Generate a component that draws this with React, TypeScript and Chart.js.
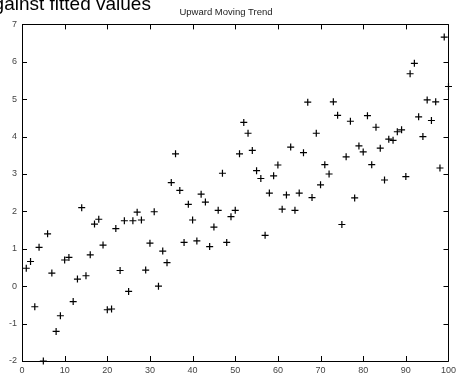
import React, { useEffect, useRef } from "react";
import { Chart, registerables } from "chart.js";

Chart.register(...registerables);

const xValues: number[] = Array.from({ length: 100 }, (_, i) => i + 1);
const yValues: number[] = [
  0.48, 0.66, -0.55, 1.04, -2.0, 1.4, 0.35, -1.21, -0.79, 0.7,
  0.77, -0.41, 0.19, 2.1, 0.28, 0.84, 1.66, 1.79, 1.1, -0.63,
  -0.61, 1.54, 0.42, 1.75, -0.14, 1.75, 1.98, 1.77, 0.43, 1.15,
  1.99, 0.0, 0.94, 0.63, 2.77, 3.54, 2.56, 1.17, 2.19, 1.77,
  1.21, 2.46, 2.25, 1.06, 1.58, 2.03, 3.02, 1.17, 1.86, 2.03,
  3.54, 4.38, 4.09, 3.63, 3.09, 2.88, 1.36, 2.49, 2.95, 3.24,
  2.06, 2.44, 3.72, 2.03, 2.49, 3.57, 4.92, 2.37, 4.09, 2.71,
  3.25, 3.0, 4.93, 4.57, 1.65, 3.46, 4.41, 2.36, 3.75, 3.59,
  4.56, 3.25, 4.25, 3.69, 2.84, 3.93, 3.9, 4.13, 4.18, 2.93,
  5.68, 5.96, 4.53, 4.0, 4.98, 4.43, 4.93, 3.16, 6.66, 5.34,
];
const xTicks: number[] = [0, 10, 20, 30, 40, 50, 60, 70, 80, 90, 100];
const yTicks: number[] = [-2, -1, 0, 1, 2, 3, 4, 5, 6, 7];
const titleText = "Upward Moving Trend";
const headerText = "against fitted values";

const FONT = "'Liberation Sans', Arial, Helvetica, sans-serif";

const framePlugin = {
  id: "matlabFrame",
  beforeDatasetsDraw(chart: any) {
    const { ctx, chartArea } = chart;
    const { left, right, top, bottom } = chartArea;
    const xs = chart.scales.x;
    const ys = chart.scales.y;
    const tl = 5;
    ctx.save();
    ctx.strokeStyle = "#000";
    ctx.lineWidth = 1;
    ctx.beginPath();
    ctx.rect(Math.round(left) + 0.5, Math.round(top) + 0.5, Math.round(right - left), Math.round(bottom - top));
    ctx.stroke();
    ctx.beginPath();
    xTicks.forEach((v) => {
      const px = Math.round(xs.getPixelForValue(v)) + 0.5;
      ctx.moveTo(px, bottom);
      ctx.lineTo(px, bottom - tl);
      ctx.moveTo(px, top);
      ctx.lineTo(px, top + tl);
    });
    yTicks.forEach((v) => {
      const py = Math.round(ys.getPixelForValue(v)) + 0.5;
      ctx.moveTo(left, py);
      ctx.lineTo(left + tl, py);
      ctx.moveTo(right, py);
      ctx.lineTo(right - tl, py);
    });
    ctx.stroke();
    ctx.restore();
  },
};

export default function App() {
  const canvasRef = useRef<HTMLCanvasElement | null>(null);

  useEffect(() => {
    const canvas = canvasRef.current;
    if (!canvas) return;
    const points = xValues.map((x, i) => ({ x, y: yValues[i] })).reverse();
    const chart = new Chart(canvas, {
      type: "scatter",
      data: {
        datasets: [
          {
            data: points,
            pointStyle: "cross",
            pointRadius: 3.5,
            pointBorderWidth: 1.2,
            pointBorderColor: "#000",
            pointBackgroundColor: "#000",
            clip: false,
          } as any,
        ],
      },
      options: {
        responsive: false,
        animation: false,
        devicePixelRatio: 1,
        layout: { padding: { left: 0, right: 8, top: 0, bottom: 0 } },
        plugins: {
          legend: { display: false },
          tooltip: { enabled: false },
          title: {
            display: true,
            text: titleText,
            color: "#222",
            font: { family: FONT, size: 9.5, weight: "normal" },
            padding: { top: 7, bottom: 6 },
          },
        },
        scales: {
          x: {
            type: "linear",
            min: 0,
            max: 100,
            afterBuildTicks: (s: any) => {
              s.ticks = xTicks.map((v) => ({ value: v }));
            },
            afterFit: (s: any) => {
              s.height = 15;
            },
            grid: { display: false, drawTicks: false },
            border: { display: false },
            ticks: {
              color: "#444",
              padding: 4,
              maxRotation: 0,
              autoSkip: false,
              font: { family: FONT, size: 9 },
            },
          },
          y: {
            type: "linear",
            min: -2,
            max: 7,
            afterBuildTicks: (s: any) => {
              s.ticks = yTicks.map((v) => ({ value: v }));
            },
            afterFit: (s: any) => {
              s.width = 22;
            },
            grid: { display: false, drawTicks: false },
            border: { display: false },
            ticks: {
              color: "#444",
              padding: 5,
              autoSkip: false,
              font: { family: FONT, size: 9 },
            },
          },
        },
      },
      plugins: [framePlugin],
    });
    return () => chart.destroy();
  }, []);

  return (
    <div
      style={{
        position: "fixed",
        left: 0,
        top: 0,
        width: 460,
        height: 376,
        overflow: "hidden",
        background: "#fff",
      }}
    >
      <canvas ref={canvasRef} width={460} height={376} style={{ display: "block" }} />
      <div
        style={{
          position: "absolute",
          left: -17,
          top: -5.7,
          fontFamily: FONT,
          fontSize: 19,
          lineHeight: "19px",
          color: "#000",
          whiteSpace: "nowrap",
        }}
      >
        {headerText}
      </div>
    </div>
  );
}
